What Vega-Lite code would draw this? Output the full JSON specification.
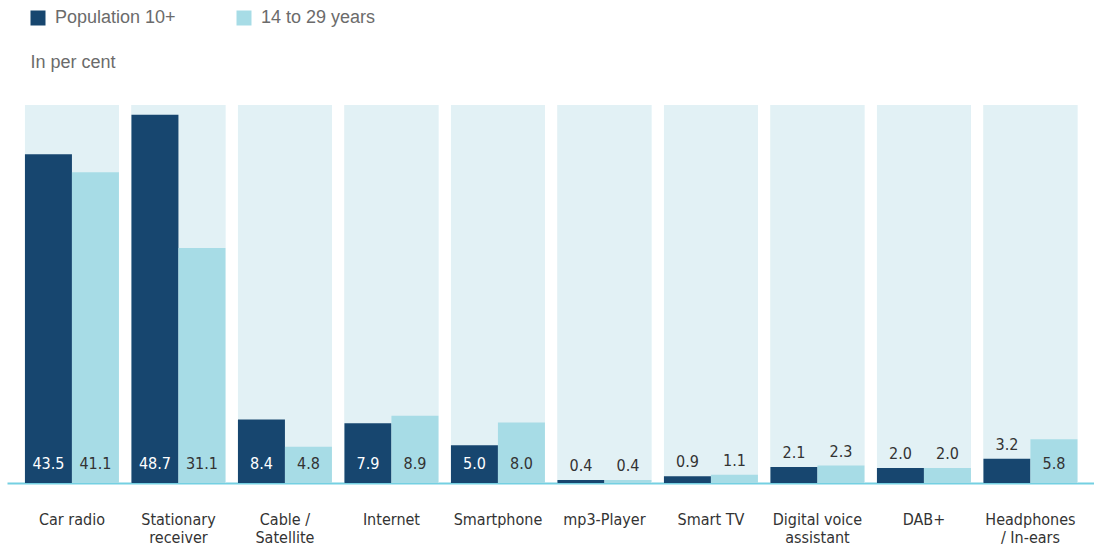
{
  "$schema": "https://vega.github.io/schema/vega-lite/v6.json",
  "width": 1087,
  "height": 378,
  "autosize": {"type": "none"},
  "padding": {"left": 7, "top": 105, "right": 0, "bottom": 64},
  "background": "white",
  "config": {"view": {"stroke": null}},
  "data": {
    "values": [
      {"category": "Car radio", "group": "Population 10+", "value": 43.5},
      {"category": "Car radio", "group": "14 to 29 years", "value": 41.1},
      {"category": "Stationary|receiver", "group": "Population 10+", "value": 48.7},
      {"category": "Stationary|receiver", "group": "14 to 29 years", "value": 31.1},
      {"category": "Cable /|Satellite", "group": "Population 10+", "value": 8.4},
      {"category": "Cable /|Satellite", "group": "14 to 29 years", "value": 4.8},
      {"category": "Internet", "group": "Population 10+", "value": 7.9},
      {"category": "Internet", "group": "14 to 29 years", "value": 8.9},
      {"category": "Smartphone", "group": "Population 10+", "value": 5.0},
      {"category": "Smartphone", "group": "14 to 29 years", "value": 8.0},
      {"category": "mp3-Player", "group": "Population 10+", "value": 0.4},
      {"category": "mp3-Player", "group": "14 to 29 years", "value": 0.4},
      {"category": "Smart TV", "group": "Population 10+", "value": 0.9},
      {"category": "Smart TV", "group": "14 to 29 years", "value": 1.1},
      {"category": "Digital voice|assistant", "group": "Population 10+", "value": 2.1},
      {"category": "Digital voice|assistant", "group": "14 to 29 years", "value": 2.3},
      {"category": "DAB+", "group": "Population 10+", "value": 2.0},
      {"category": "DAB+", "group": "14 to 29 years", "value": 2.0},
      {"category": "Headphones|/ In-ears", "group": "Population 10+", "value": 3.2},
      {"category": "Headphones|/ In-ears", "group": "14 to 29 years", "value": 5.8}
    ]
  },
  "encoding": {
    "x": {
      "field": "category",
      "type": "nominal",
      "sort": null,
      "scale": {"paddingInner": 0.1174, "paddingOuter": 0.162, "align": 0.52},
      "axis": {
        "title": null,
        "labelAngle": 0,
        "labelExpr": "split(datum.label, '|')",
        "labelFont": "Liberation Sans Narrow, DejaVu Sans Condensed, Roboto",
        "labelFontSize": 16,
        "labelColor": "#333333",
        "labelLineHeight": 18,
        "labelPadding": 28,
        "labelBaseline": "top",
        "ticks": false,
        "domain": true,
        "domainColor": "#74d0e2",
        "domainWidth": 2,
        "labelLimit": 200
      }
    }
  },
  "layer": [
    {
      "mark": {"type": "bar", "color": "#e2f1f5"},
      "encoding": {
        "y": {
          "datum": 50,
          "type": "quantitative",
          "scale": {"domain": [0, 50], "nice": false},
          "axis": {
            "title": "In per cent",
            "titleAngle": 0,
            "titleAlign": "left",
            "titleBaseline": "alphabetic",
            "titleX": 23,
            "titleY": -38,
            "titleFont": "Liberation Sans",
            "titleFontSize": 18,
            "titleFontWeight": "normal",
            "titleColor": "#6b6b6b",
            "labels": false,
            "ticks": false,
            "domain": false,
            "grid": false
          }
        }
      }
    },
    {
      "mark": {"type": "bar"},
      "encoding": {
        "xOffset": {"field": "group", "type": "nominal", "sort": ["Population 10+", "14 to 29 years"], "scale": {"paddingInner": 0, "paddingOuter": 0}},
        "y": {"field": "value", "type": "quantitative"},
        "color": {
          "field": "group",
          "type": "nominal",
          "sort": ["Population 10+", "14 to 29 years"],
          "scale": {"domain": ["Population 10+", "14 to 29 years"], "range": ["#17466f", "#a7dce6"]},
          "legend": {
            "title": null,
            "orient": "none",
            "legendX": 22,
            "legendY": -96,
            "direction": "horizontal",
            "symbolType": "square",
            "symbolSize": 225,
            "symbolStrokeWidth": 0,
            "labelFont": "Liberation Sans",
            "labelFontSize": 18,
            "labelColor": "#6b6b6b",
            "labelOffset": 8,
            "columnPadding": 59
          }
        }
      }
    },
    {
      "transform": [{"filter": "datum.value >= 4"}],
      "mark": {"type": "text", "baseline": "alphabetic", "dy": -14, "font": "Liberation Sans Narrow, DejaVu Sans Condensed, Roboto", "fontSize": 16},
      "encoding": {
        "xOffset": {"field": "group", "type": "nominal", "sort": ["Population 10+", "14 to 29 years"]},
        "y": {"datum": 0, "type": "quantitative"},
        "text": {"field": "value", "type": "quantitative", "format": ".1f"},
        "color": {"condition": {"test": "datum.group === 'Population 10+'", "value": "#ffffff"}, "value": "#333333"}
      }
    },
    {
      "transform": [{"filter": "datum.value < 4"}],
      "mark": {"type": "text", "baseline": "alphabetic", "dy": -9, "font": "Liberation Sans Narrow, DejaVu Sans Condensed, Roboto", "fontSize": 16, "color": "#333333"},
      "encoding": {
        "xOffset": {"field": "group", "type": "nominal", "sort": ["Population 10+", "14 to 29 years"]},
        "y": {"field": "value", "type": "quantitative"},
        "text": {"field": "value", "type": "quantitative", "format": ".1f"}
      }
    }
  ]
}
